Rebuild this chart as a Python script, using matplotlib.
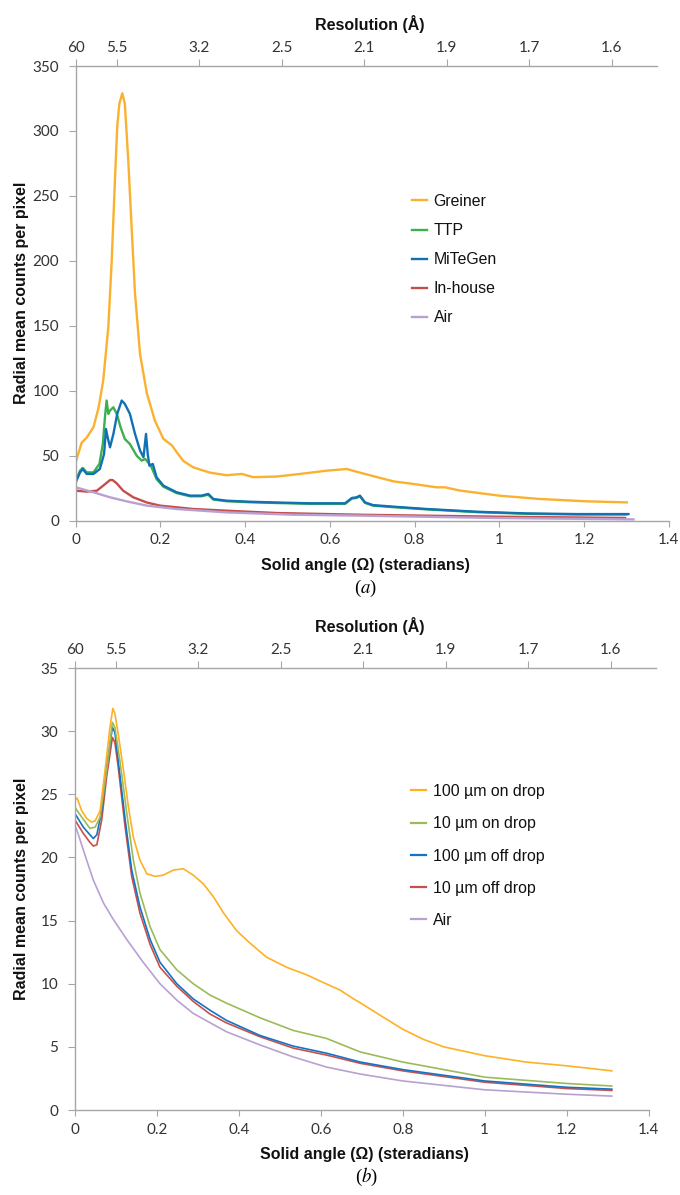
import matplotlib
matplotlib.use("Agg")
import matplotlib.pyplot as plt

# ---------------- data: panel (a) ----------------
greiner_x = [0, 0.014, 0.026, 0.042, 0.054, 0.065, 0.077, 0.085, 0.093, 0.098, 0.103, 0.110, 0.116,
             0.124, 0.132, 0.140, 0.152, 0.168, 0.187, 0.207, 0.227, 0.238, 0.254, 0.278, 0.317,
             0.356, 0.392, 0.419, 0.475, 0.53, 0.592, 0.64, 0.671, 0.718, 0.75, 0.797, 0.852,
             0.872, 0.907, 1.002, 1.097, 1.207, 1.301]
greiner_y = [45, 60, 64, 72, 87, 108, 149, 200, 265, 303, 321, 329, 321, 278, 226, 175, 128, 98,
             77, 63, 58, 53, 46, 41, 37, 35, 36, 33.5, 34, 36, 38.5, 39.8, 37, 33, 30.3, 28.3,
             25.7, 25.7, 23.2, 19.2, 16.7, 14.9, 14.1]

ttp_x = [0, 0.010, 0.0165, 0.026, 0.042, 0.056, 0.064, 0.069, 0.073, 0.077, 0.081, 0.089, 0.097,
         0.106, 0.116, 0.128, 0.144, 0.156, 0.164, 0.171, 0.179, 0.191, 0.207, 0.238, 0.27,
         0.297, 0.313, 0.325, 0.356, 0.411, 0.475, 0.553, 0.636, 0.652, 0.663, 0.671, 0.683,
         0.702, 0.75, 0.829, 0.947, 1.065, 1.183, 1.30]
ttp_y = [30.3, 38.5, 40.6, 37.2, 37.2, 43.7, 59, 79.6, 92.5, 82.2, 84.8, 87.3, 82.2, 71.9, 62.9,
         59, 50, 46.2, 47.5, 44.9, 41.1, 32, 26.2, 21.3, 18.8, 18.8, 20.0, 16.3, 15.0, 14.2,
         13.6, 13.0, 13.0, 17.0, 17.5, 18.8, 13.7, 11.6, 10.4, 8.7, 6.6, 5.3, 4.8, 4.8]

mitegen_x = [0, 0.010, 0.0165, 0.026, 0.042, 0.057, 0.067, 0.0715, 0.0755, 0.081, 0.089, 0.098,
             0.1086, 0.116, 0.128, 0.140, 0.152, 0.160, 0.166, 0.170, 0.174, 0.182, 0.191, 0.207,
             0.238, 0.27, 0.297, 0.313, 0.325, 0.356, 0.411, 0.475, 0.553, 0.636, 0.652, 0.663,
             0.671, 0.683, 0.702, 0.75, 0.829, 0.947, 1.065, 1.183, 1.305]
mitegen_y = [29.5, 37, 39.8, 36, 36, 39.8, 51.4, 70.6, 64, 56.5, 66.8, 82.2, 92.5, 89.9, 82.2,
             66.8, 54, 48.8, 66.8, 51.4, 42.4, 43.7, 33.4, 27, 21.9, 19.3, 19.3, 20.6, 16.7,
             15.4, 14.6, 14, 13.4, 13.4, 17.5, 18, 19.3, 14.1, 12, 10.8, 9, 6.9, 5.6, 5.1, 5.1]

inhouse_x = [0, 0.026, 0.05, 0.065, 0.081, 0.087, 0.097, 0.112, 0.136, 0.168, 0.199, 0.278,
             0.356, 0.475, 0.671, 0.99, 1.297]
inhouse_y = [23.1, 22.4, 23.1, 27, 31.3, 31.3, 28.7, 23.1, 18, 14, 11.6, 9, 7.7, 5.9, 4.6, 3.1, 2.1]

air_a_x = [0, 0.042, 0.081, 0.12, 0.168, 0.238, 0.356, 0.514, 0.671, 0.99, 1.317]
air_a_y = [25.7, 21.9, 18, 14.9, 11.6, 9, 6.4, 4.6, 3.9, 2.1, 1.0]

# ---------------- data: panel (b) ----------------
on100_x = [0, 0.006, 0.017, 0.029, 0.041, 0.050, 0.062, 0.074, 0.086, 0.093, 0.098, 0.106, 0.119,
           0.131, 0.143, 0.159, 0.176, 0.196, 0.216, 0.241, 0.265, 0.289, 0.314, 0.338, 0.363,
           0.395, 0.428, 0.468, 0.517, 0.566, 0.606, 0.647, 0.68, 0.696, 0.75, 0.8, 0.85, 0.9,
           1.0, 1.1, 1.2, 1.31]
on100_y = [24.5, 24.7, 23.7, 23.1, 22.8, 22.9, 23.7, 26.9, 30.3, 31.8, 31.4, 29.8, 26.9, 24.0,
           21.6, 19.8, 18.7, 18.5, 18.6, 19.0, 19.1, 18.6, 17.9, 16.9, 15.6, 14.2, 13.2, 12.1,
           11.3, 10.7, 10.1, 9.5, 8.8, 8.5, 7.4, 6.4, 5.6, 5.0, 4.3, 3.8, 3.5, 3.1]

on10_x = [0, 0.017, 0.037, 0.050, 0.062, 0.078, 0.092, 0.098, 0.11, 0.127, 0.143, 0.159, 0.184,
          0.208, 0.249, 0.289, 0.33, 0.371, 0.452, 0.533, 0.614, 0.696, 0.8, 1.0, 1.2, 1.31]
on10_y = [24.0, 23.2, 22.3, 22.4, 23.2, 26.9, 30.7, 30.3, 27.7, 23.5, 19.8, 17.2, 14.5, 12.7,
          11.1, 10.0, 9.1, 8.45, 7.3, 6.3, 5.67, 4.6, 3.8, 2.6, 2.1, 1.9]

off_x = [0, 0.021, 0.037, 0.0455, 0.054, 0.066, 0.078, 0.092, 0.098, 0.106, 0.123, 0.139, 0.159,
         0.184, 0.208, 0.249, 0.289, 0.33, 0.37, 0.452, 0.533, 0.614, 0.696, 0.8, 1.0, 1.2, 1.31]
off100_y = [23.5, 22.4, 21.8, 21.5, 21.8, 23.7, 27.2, 30.3, 29.9, 27.7, 23.0, 19.0, 16.1, 13.5,
            11.7, 10.0, 8.8, 7.9, 7.1, 5.9, 5.06, 4.5, 3.8, 3.2, 2.3, 1.8, 1.65]
off10_y = [23.0, 21.9, 21.2, 20.9, 21.0, 23.0, 26.4, 29.5, 29.1, 27.2, 22.4, 18.5, 15.6, 13.1,
           11.3, 9.8, 8.6, 7.6, 6.9, 5.8, 4.9, 4.35, 3.7, 3.1, 2.2, 1.7, 1.55]

air_b_x = [0, 0.008, 0.029, 0.0455, 0.07, 0.094, 0.127, 0.167, 0.208, 0.249, 0.289, 0.37, 0.452,
           0.533, 0.614, 0.696, 0.8, 1.0, 1.2, 1.31]
air_b_y = [22.6, 21.9, 19.8, 18.2, 16.4, 15.1, 13.5, 11.7, 10.0, 8.7, 7.65, 6.2, 5.15, 4.2, 3.4,
           2.85, 2.3, 1.6, 1.25, 1.1]

# ---------------- axis labels / ticks ----------------
res_labels = ["60", "5.5", "3.2", "2.5", "2.1", "1.9", "1.7", "1.6"]
res_pos = [0, 0.1, 0.3, 0.5, 0.7, 0.9, 1.1, 1.3]
x_ticks = [0, 0.2, 0.4, 0.6, 0.8, 1, 1.2, 1.4]
x_ticklabels = ["0", "0.2", "0.4", "0.6", "0.8", "1", "1.2", "1.4"]
ya_ticks = [0, 50, 100, 150, 200, 250, 300, 350]
yb_ticks = [0, 5, 10, 15, 20, 25, 30, 35]

labels_a = ["Greiner", "TTP", "MiTeGen", "In-house", "Air"]
colors_a = ["#FBB130", "#3DB04B", "#1271B5", "#C44E4B", "#B9A0D2"]
labels_b = ["100 \u00b5m on drop", "10 \u00b5m on drop", "100 \u00b5m off drop", "10 \u00b5m off drop", "Air"]
colors_b = ["#FDB125", "#9BBB59", "#1673C4", "#C8504B", "#B9A0D2"]

W, H = 680, 1195
fig = plt.figure(figsize=(W / 100, H / 100), dpi=100)

TICKFONT = dict(family="Lato", size=11, color="#333333")
SPINE = "#A6A6A6"


def fx(px):
    return px / W


def fy(py):
    return 1 - py / H


def setup_main(ax, yticks, ymax):
    ax.set_xlim(0, 1.4)
    ax.set_ylim(0, ymax)
    for s in ["top", "right"]:
        ax.spines[s].set_visible(False)
    for s in ["left", "bottom"]:
        ax.spines[s].set_color(SPINE)
        ax.spines[s].set_linewidth(1.0)
    ax.set_xticks(x_ticks)
    ax.set_xticklabels(x_ticklabels, fontdict=TICKFONT)
    ax.set_yticks(yticks)
    ax.set_yticklabels([str(v) for v in yticks], fontdict=TICKFONT)
    ax.tick_params(axis="x", direction="out", length=4, color=SPINE, pad=5)
    ax.tick_params(axis="y", direction="out", length=5, color=SPINE, pad=7)
    ax.patch.set_alpha(0)


def top_axis(left_px, y_px):
    tax = fig.add_axes([fx(left_px), fy(y_px), fx(1.41 * 412.2), 1e-5])
    tax.set_xlim(0, 1.41)
    tax.set_ylim(0, 1)
    for s in ["top", "right", "left"]:
        tax.spines[s].set_visible(False)
    tax.spines["bottom"].set_color(SPINE)
    tax.spines["bottom"].set_linewidth(1.0)
    tax.set_yticks([])
    tax.xaxis.set_ticks_position("top")
    tax.xaxis.set_label_position("top")
    tax.set_xticks(res_pos)
    tax.set_xticklabels(res_labels, fontdict=TICKFONT)
    tax.tick_params(axis="x", direction="out", length=5, color=SPINE, pad=3)
    tax.patch.set_alpha(0)
    return tax


LABELFONT = dict(family="Liberation Sans", size=11.5, weight="bold", color="#111111")

# ---------------- panel (a) ----------------
axa = fig.add_axes([fx(75.7), fy(520.7), fx(593), (520.7 - 66) / H])
setup_main(axa, ya_ticks, 350)
series_a = [(greiner_x, greiner_y), (ttp_x, ttp_y), (mitegen_x, mitegen_y),
            (inhouse_x, inhouse_y), (air_a_x, air_a_y)]
for (xs, ys), c, lab in zip(series_a, colors_a, labels_a):
    axa.plot(xs, ys, color=c, lw=1.7, label=lab, solid_joinstyle="round")
top_axis(75.7, 66)
leg = axa.legend(loc="upper left", bbox_to_anchor=(fx(411.5), fy(194)),
                 bbox_transform=fig.transFigure, frameon=False, borderpad=0, borderaxespad=0,
                 handlelength=0.95, handletextpad=0.45, labelspacing=0.89,
                 prop=dict(family="Liberation Sans", size=11.4))
for t in leg.get_texts():
    t.set_color("#111111")

fig.text(fx(370), fy(24), "Resolution (\u00c5)", ha="center", va="center", **LABELFONT)
fig.text(fx(365), fy(565), "Solid angle (\u03a9) (steradians)", ha="center", va="center", **LABELFONT)
fig.text(fx(22), fy(293), "Radial mean counts per pixel", ha="center", va="center",
         rotation=90, **LABELFONT)
fig.text(fx(366), fy(588), "($a$)", ha="center", va="center", family="Liberation Serif",
         size=13.5, math_fontfamily="stix")

# ---------------- panel (b) ----------------
axb = fig.add_axes([fx(74.7), fy(1110), fx(574), (1110 - 668) / H])
setup_main(axb, yb_ticks, 35)
series_b = [(on100_x, on100_y), (on10_x, on10_y), (off_x, off100_y), (off_x, off10_y),
            (air_b_x, air_b_y)]
order = [4, 3, 2, 1, 0]
lines = {}
for i in order:
    xs, ys = series_b[i]
    lines[i], = axb.plot(xs, ys, color=colors_b[i], lw=1.2, label=labels_b[i])
top_axis(74.7, 668)
legb = axb.legend([lines[i] for i in range(5)], labels_b, loc="upper left",
                  bbox_to_anchor=(fx(411), fy(784)), bbox_transform=fig.transFigure,
                  frameon=False, borderpad=0, borderaxespad=0, handlelength=0.95,
                  handletextpad=0.45, labelspacing=1.09,
                  prop=dict(family="Liberation Sans", size=11.4))
for t in legb.get_texts():
    t.set_color("#111111")
for h in legb.legend_handles:
    h.set_linewidth(1.6)

fig.text(fx(370), fy(626), "Resolution (\u00c5)", ha="center", va="center", **LABELFONT)
fig.text(fx(364), fy(1155), "Solid angle (\u03a9) (steradians)", ha="center", va="center", **LABELFONT)
fig.text(fx(22), fy(889), "Radial mean counts per pixel", ha="center", va="center",
         rotation=90, **LABELFONT)
fig.text(fx(366), fy(1177), "($b$)", ha="center", va="center", family="Liberation Serif",
         size=13.5, math_fontfamily="stix")

fig.savefig("out.png", dpi=100)
